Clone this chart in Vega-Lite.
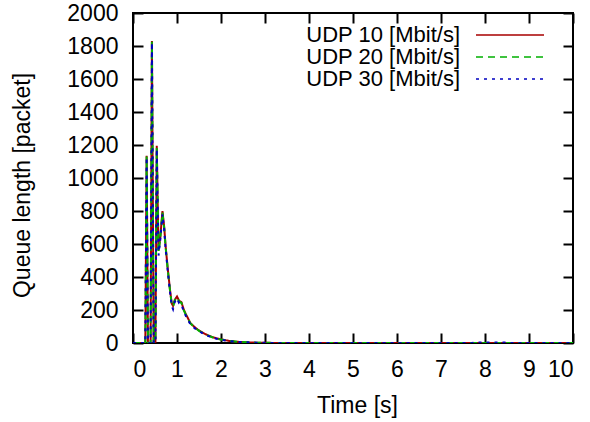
{
  "$schema": "https://vega.github.io/schema/vega-lite/v6.json",
  "width": 440,
  "height": 330,
  "autosize": "none",
  "padding": {"left": 133, "top": 13, "right": 17, "bottom": 79},
  "background": "white",
  "data": {"values": [
    {"t": 0.0, "q": 0, "s": "UDP 10 [Mbit/s]"},
    {"t": 0.28, "q": 0, "s": "UDP 10 [Mbit/s]"},
    {"t": 0.31, "q": 1135, "s": "UDP 10 [Mbit/s]"},
    {"t": 0.34, "q": 0, "s": "UDP 10 [Mbit/s]"},
    {"t": 0.40, "q": 0, "s": "UDP 10 [Mbit/s]"},
    {"t": 0.43, "q": 1830, "s": "UDP 10 [Mbit/s]"},
    {"t": 0.47, "q": 0, "s": "UDP 10 [Mbit/s]"},
    {"t": 0.51, "q": 0, "s": "UDP 10 [Mbit/s]"},
    {"t": 0.54, "q": 1195, "s": "UDP 10 [Mbit/s]"},
    {"t": 0.58, "q": 560, "s": "UDP 10 [Mbit/s]"},
    {"t": 0.62, "q": 640, "s": "UDP 10 [Mbit/s]"},
    {"t": 0.67, "q": 800, "s": "UDP 10 [Mbit/s]"},
    {"t": 0.71, "q": 700, "s": "UDP 10 [Mbit/s]"},
    {"t": 0.74, "q": 590, "s": "UDP 10 [Mbit/s]"},
    {"t": 0.79, "q": 450, "s": "UDP 10 [Mbit/s]"},
    {"t": 0.84, "q": 325, "s": "UDP 10 [Mbit/s]"},
    {"t": 0.88, "q": 240, "s": "UDP 10 [Mbit/s]"},
    {"t": 0.91, "q": 225, "s": "UDP 10 [Mbit/s]"},
    {"t": 0.95, "q": 262, "s": "UDP 10 [Mbit/s]"},
    {"t": 1.00, "q": 282, "s": "UDP 10 [Mbit/s]"},
    {"t": 1.05, "q": 255, "s": "UDP 10 [Mbit/s]"},
    {"t": 1.10, "q": 248, "s": "UDP 10 [Mbit/s]"},
    {"t": 1.15, "q": 205, "s": "UDP 10 [Mbit/s]"},
    {"t": 1.20, "q": 175, "s": "UDP 10 [Mbit/s]"},
    {"t": 1.25, "q": 150, "s": "UDP 10 [Mbit/s]"},
    {"t": 1.30, "q": 122, "s": "UDP 10 [Mbit/s]"},
    {"t": 1.40, "q": 96, "s": "UDP 10 [Mbit/s]"},
    {"t": 1.50, "q": 76, "s": "UDP 10 [Mbit/s]"},
    {"t": 1.60, "q": 60, "s": "UDP 10 [Mbit/s]"},
    {"t": 1.70, "q": 47, "s": "UDP 10 [Mbit/s]"},
    {"t": 1.80, "q": 36, "s": "UDP 10 [Mbit/s]"},
    {"t": 1.90, "q": 28, "s": "UDP 10 [Mbit/s]"},
    {"t": 2.00, "q": 22, "s": "UDP 10 [Mbit/s]"},
    {"t": 2.20, "q": 12, "s": "UDP 10 [Mbit/s]"},
    {"t": 2.40, "q": 7, "s": "UDP 10 [Mbit/s]"},
    {"t": 2.60, "q": 4, "s": "UDP 10 [Mbit/s]"},
    {"t": 2.80, "q": 2, "s": "UDP 10 [Mbit/s]"},
    {"t": 3.00, "q": 1, "s": "UDP 10 [Mbit/s]"},
    {"t": 3.50, "q": 0, "s": "UDP 10 [Mbit/s]"},
    {"t": 10.0, "q": 0, "s": "UDP 10 [Mbit/s]"},

    {"t": 0.0, "q": 0, "s": "UDP 20 [Mbit/s]"},
    {"t": 0.28, "q": 0, "s": "UDP 20 [Mbit/s]"},
    {"t": 0.31, "q": 1130, "s": "UDP 20 [Mbit/s]"},
    {"t": 0.34, "q": 0, "s": "UDP 20 [Mbit/s]"},
    {"t": 0.40, "q": 0, "s": "UDP 20 [Mbit/s]"},
    {"t": 0.43, "q": 1825, "s": "UDP 20 [Mbit/s]"},
    {"t": 0.47, "q": 0, "s": "UDP 20 [Mbit/s]"},
    {"t": 0.51, "q": 0, "s": "UDP 20 [Mbit/s]"},
    {"t": 0.54, "q": 1185, "s": "UDP 20 [Mbit/s]"},
    {"t": 0.58, "q": 550, "s": "UDP 20 [Mbit/s]"},
    {"t": 0.62, "q": 635, "s": "UDP 20 [Mbit/s]"},
    {"t": 0.67, "q": 790, "s": "UDP 20 [Mbit/s]"},
    {"t": 0.71, "q": 695, "s": "UDP 20 [Mbit/s]"},
    {"t": 0.74, "q": 585, "s": "UDP 20 [Mbit/s]"},
    {"t": 0.79, "q": 445, "s": "UDP 20 [Mbit/s]"},
    {"t": 0.84, "q": 320, "s": "UDP 20 [Mbit/s]"},
    {"t": 0.88, "q": 235, "s": "UDP 20 [Mbit/s]"},
    {"t": 0.91, "q": 220, "s": "UDP 20 [Mbit/s]"},
    {"t": 0.95, "q": 258, "s": "UDP 20 [Mbit/s]"},
    {"t": 1.00, "q": 278, "s": "UDP 20 [Mbit/s]"},
    {"t": 1.05, "q": 250, "s": "UDP 20 [Mbit/s]"},
    {"t": 1.10, "q": 244, "s": "UDP 20 [Mbit/s]"},
    {"t": 1.15, "q": 200, "s": "UDP 20 [Mbit/s]"},
    {"t": 1.20, "q": 172, "s": "UDP 20 [Mbit/s]"},
    {"t": 1.25, "q": 147, "s": "UDP 20 [Mbit/s]"},
    {"t": 1.30, "q": 120, "s": "UDP 20 [Mbit/s]"},
    {"t": 1.40, "q": 94, "s": "UDP 20 [Mbit/s]"},
    {"t": 1.50, "q": 74, "s": "UDP 20 [Mbit/s]"},
    {"t": 1.60, "q": 59, "s": "UDP 20 [Mbit/s]"},
    {"t": 1.70, "q": 46, "s": "UDP 20 [Mbit/s]"},
    {"t": 1.80, "q": 35, "s": "UDP 20 [Mbit/s]"},
    {"t": 1.90, "q": 27, "s": "UDP 20 [Mbit/s]"},
    {"t": 2.00, "q": 21, "s": "UDP 20 [Mbit/s]"},
    {"t": 2.20, "q": 12, "s": "UDP 20 [Mbit/s]"},
    {"t": 2.40, "q": 7, "s": "UDP 20 [Mbit/s]"},
    {"t": 2.60, "q": 4, "s": "UDP 20 [Mbit/s]"},
    {"t": 2.80, "q": 2, "s": "UDP 20 [Mbit/s]"},
    {"t": 3.00, "q": 1, "s": "UDP 20 [Mbit/s]"},
    {"t": 3.50, "q": 0, "s": "UDP 20 [Mbit/s]"},
    {"t": 10.0, "q": 0, "s": "UDP 20 [Mbit/s]"},

    {"t": 0.0, "q": 0, "s": "UDP 30 [Mbit/s]"},
    {"t": 0.28, "q": 0, "s": "UDP 30 [Mbit/s]"},
    {"t": 0.31, "q": 1125, "s": "UDP 30 [Mbit/s]"},
    {"t": 0.34, "q": 0, "s": "UDP 30 [Mbit/s]"},
    {"t": 0.40, "q": 0, "s": "UDP 30 [Mbit/s]"},
    {"t": 0.43, "q": 1820, "s": "UDP 30 [Mbit/s]"},
    {"t": 0.47, "q": 0, "s": "UDP 30 [Mbit/s]"},
    {"t": 0.51, "q": 0, "s": "UDP 30 [Mbit/s]"},
    {"t": 0.54, "q": 1175, "s": "UDP 30 [Mbit/s]"},
    {"t": 0.58, "q": 530, "s": "UDP 30 [Mbit/s]"},
    {"t": 0.62, "q": 625, "s": "UDP 30 [Mbit/s]"},
    {"t": 0.67, "q": 780, "s": "UDP 30 [Mbit/s]"},
    {"t": 0.71, "q": 685, "s": "UDP 30 [Mbit/s]"},
    {"t": 0.74, "q": 575, "s": "UDP 30 [Mbit/s]"},
    {"t": 0.79, "q": 435, "s": "UDP 30 [Mbit/s]"},
    {"t": 0.84, "q": 312, "s": "UDP 30 [Mbit/s]"},
    {"t": 0.88, "q": 225, "s": "UDP 30 [Mbit/s]"},
    {"t": 0.91, "q": 205, "s": "UDP 30 [Mbit/s]"},
    {"t": 0.95, "q": 250, "s": "UDP 30 [Mbit/s]"},
    {"t": 1.00, "q": 270, "s": "UDP 30 [Mbit/s]"},
    {"t": 1.05, "q": 240, "s": "UDP 30 [Mbit/s]"},
    {"t": 1.10, "q": 236, "s": "UDP 30 [Mbit/s]"},
    {"t": 1.15, "q": 192, "s": "UDP 30 [Mbit/s]"},
    {"t": 1.20, "q": 165, "s": "UDP 30 [Mbit/s]"},
    {"t": 1.25, "q": 140, "s": "UDP 30 [Mbit/s]"},
    {"t": 1.30, "q": 115, "s": "UDP 30 [Mbit/s]"},
    {"t": 1.40, "q": 90, "s": "UDP 30 [Mbit/s]"},
    {"t": 1.50, "q": 71, "s": "UDP 30 [Mbit/s]"},
    {"t": 1.60, "q": 56, "s": "UDP 30 [Mbit/s]"},
    {"t": 1.70, "q": 44, "s": "UDP 30 [Mbit/s]"},
    {"t": 1.80, "q": 34, "s": "UDP 30 [Mbit/s]"},
    {"t": 1.90, "q": 26, "s": "UDP 30 [Mbit/s]"},
    {"t": 2.00, "q": 20, "s": "UDP 30 [Mbit/s]"},
    {"t": 2.20, "q": 11, "s": "UDP 30 [Mbit/s]"},
    {"t": 2.40, "q": 6, "s": "UDP 30 [Mbit/s]"},
    {"t": 2.60, "q": 4, "s": "UDP 30 [Mbit/s]"},
    {"t": 2.80, "q": 2, "s": "UDP 30 [Mbit/s]"},
    {"t": 3.00, "q": 1, "s": "UDP 30 [Mbit/s]"},
    {"t": 3.50, "q": 0, "s": "UDP 30 [Mbit/s]"},
    {"t": 7.70, "q": 0, "s": "UDP 30 [Mbit/s]"},
    {"t": 7.80, "q": 3, "s": "UDP 30 [Mbit/s]"},
    {"t": 8.50, "q": 3, "s": "UDP 30 [Mbit/s]"},
    {"t": 8.60, "q": 0, "s": "UDP 30 [Mbit/s]"},
    {"t": 10.0, "q": 0, "s": "UDP 30 [Mbit/s]"}
  ]},
  "layer": [
    {
      "mark": {"type": "line", "strokeWidth": 2, "clip": true},
      "encoding": {
        "x": {"field": "t", "type": "quantitative", "scale": {"domain": [0, 10], "nice": false},
              "axis": {"orient": "bottom", "values": [0,1,2,3,4,5,6,7,8,9,10], "format": "d", "title": "Time [s]", "titleX": 224, "titleY": 69, "titleBaseline": "alphabetic"}},
        "y": {"field": "q", "type": "quantitative", "scale": {"domain": [0, 2000], "nice": false},
              "axis": {"orient": "left", "values": [0,200,400,600,800,1000,1200,1400,1600,1800,2000], "format": "d", "title": "Queue length [packet]", "titleX": -104, "titleY": 172, "titleBaseline": "alphabetic"}},
        "color": {"field": "s", "type": "nominal",
                  "scale": {"domain": ["UDP 10 [Mbit/s]", "UDP 20 [Mbit/s]", "UDP 30 [Mbit/s]"], "range": ["#a80000", "#00b000", "#0000c0"]},
                  "legend": {"title": null}},
        "strokeDash": {"field": "s", "type": "nominal",
                  "scale": {"domain": ["UDP 10 [Mbit/s]", "UDP 20 [Mbit/s]", "UDP 30 [Mbit/s]"], "range": [[1, 0], [7, 5], [3, 5]]},
                  "legend": {"title": null}}
      }
    },
    {
      "mark": {"type": "line", "strokeOpacity": 0},
      "encoding": {
        "x": {"field": "t", "type": "quantitative", "axis": {"orient": "top", "values": [0,1,2,3,4,5,6,7,8,9,10], "labels": false, "title": null}},
        "y": {"field": "q", "type": "quantitative", "axis": {"orient": "right", "values": [0,200,400,600,800,1000,1200,1400,1600,1800,2000], "labels": false, "title": null}}
      }
    }
  ],
  "resolve": {"axis": {"x": "independent", "y": "independent"}},
  "config": {
    "view": {"stroke": "black", "strokeWidth": 2},
    "axis": {
      "domain": false, "grid": false,
      "tickColor": "black", "tickWidth": 2, "tickSize": -10,
      "labelFont": "Liberation Sans", "labelFontSize": 23, "labelColor": "black", "labelPadding": 25,
      "titleFont": "Liberation Sans", "titleFontSize": 23, "titleFontWeight": "normal", "titleColor": "black"
    },
    "legend": {
      "orient": "none", "legendX": 366, "legendY": 11, "padding": 0,
      "symbolType": "M -4 0 L 4 0", "symbolSize": 289, "symbolStrokeWidth": 1.5,
      "labelAlign": "right", "labelOffset": -61, "labelLimit": 400,
      "labelFont": "Liberation Sans", "labelFontSize": 22, "labelColor": "black",
      "rowPadding": 0
    }
  }
}
